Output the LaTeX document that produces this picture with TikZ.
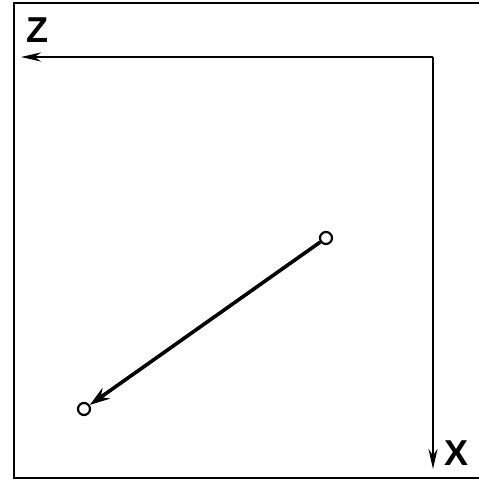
\documentclass[tikz,border=0pt]{standalone}
\usepackage{fontspec}
\setmainfont{Liberation Sans}
\usetikzlibrary{arrows.meta}
\begin{document}
\begin{tikzpicture}[x=1pt,y=-1pt,
  frame/.style={line width=2.2pt},
  axis/.style={line width=2.6pt,-{Stealth[length=20pt,width=9pt]}},
  vec/.style={line width=3.6pt,-{Stealth[length=20pt,width=13pt]}},
  pt/.style={circle,draw,line width=2.2pt,fill=white,minimum size=12pt,inner sep=0pt},
  lab/.style={font=\fontsize{36}{36}\selectfont\bfseries,inner sep=0pt}]
\useasboundingbox (0,0) rectangle (479,483);
% frame
\draw[frame] (479,3) -- (14,3) -- (14,478) -- (479,478);
% axes
\coordinate (O) at (433,57);
\coordinate (Zend) at (21,57);
\coordinate (Xend) at (433,469);
\draw[axis,rounded corners=3pt] (O) -- (Zend);
\draw[axis] (O) -- (Xend);
\node[lab,anchor=base west] (Z) at (26,42) {Z};
\node[lab,anchor=base west] (X) at (444,465) {X};
% vector
\node[pt] (A) at (326,238) {};
\node[pt] (B) at (84,409) {};
\draw[vec] (A) -- (B);
\end{tikzpicture}
\end{document}
